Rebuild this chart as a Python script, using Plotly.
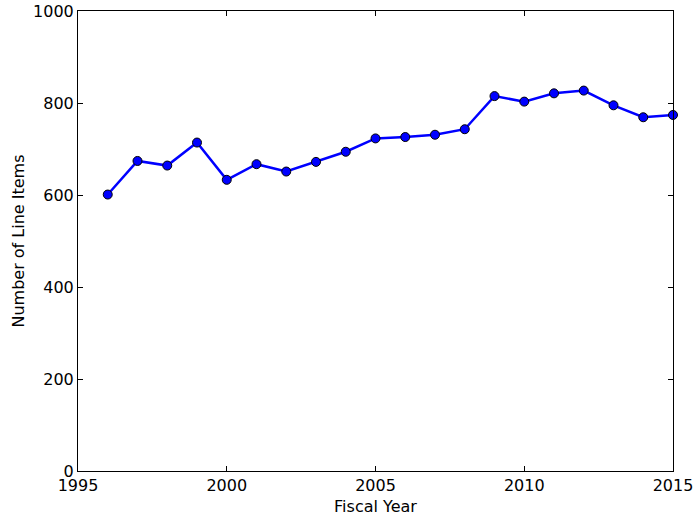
import plotly.graph_objects as go

years = list(range(1996, 2016))
line_items = [601, 674, 664, 714, 633, 667, 651, 672, 694, 723,
              726, 731, 743, 815, 803, 821, 827, 795, 769, 774]
x_ticks = [1995, 2000, 2005, 2010, 2015]
y_ticks = [0, 200, 400, 600, 800, 1000]

fig = go.Figure()
fig.add_trace(go.Scatter(
    x=years, y=line_items, mode="lines+markers",
    line=dict(color="#0000ff", width=2.5),
    marker=dict(color="#0000ff", size=9, line=dict(color="black", width=1)),
    showlegend=False, cliponaxis=False,
))

font = dict(family="DejaVu Sans", size=16, color="black")
axis_common = dict(
    showline=True, linecolor="black", linewidth=1, mirror="ticks",
    ticks="inside", ticklen=5, tickcolor="black", tickwidth=1,
    showgrid=False, zeroline=False, tickfont=font, automargin=False,
)
fig.update_xaxes(range=[1995, 2015], tickvals=x_ticks, ticktext=[str(t) for t in x_ticks],
                 title=dict(text="Fiscal Year", font=font, standoff=6), **axis_common)
fig.update_yaxes(range=[0, 1000], tickvals=y_ticks, ticktext=[str(t) for t in y_ticks],
                 title=dict(text="Number of Line Items", font=font, standoff=4), **axis_common)
fig.update_layout(
    width=696, height=520,
    margin=dict(l=78, r=23, t=11, b=49, autoexpand=False),
    paper_bgcolor="white", plot_bgcolor="white",
    font=font,
)
fig.write_html("out.html", config={"displayModeBar": False},
               post_script="document.body.style.margin='0';document.body.style.overflow='hidden';")
